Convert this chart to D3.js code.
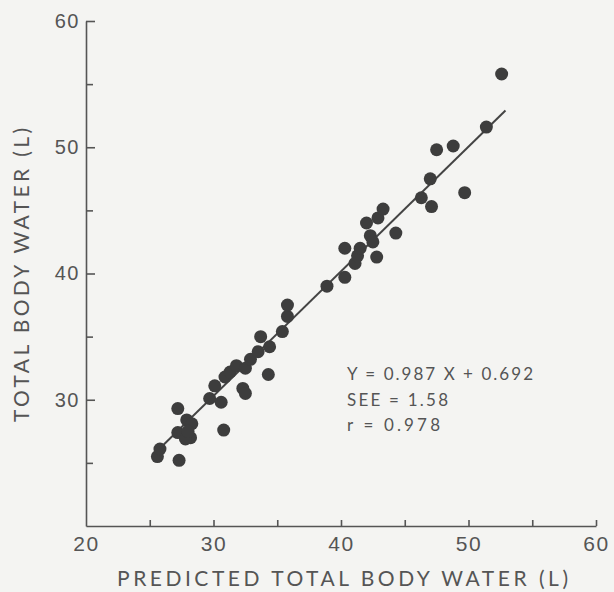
<!DOCTYPE html>
<html>
<head>
<meta charset="utf-8">
<script src="https://cdn.jsdelivr.net/npm/d3@7"></script>
<style>
  html, body { margin: 0; padding: 0; background: #f4f4f2; }
  svg { display: block; font-family: Lato, "DejaVu Sans", sans-serif; }
  .axis path, .axis line { stroke: #555; stroke-width: 1.6; }
  .axis text { fill: #555; }
</style>
</head>
<body>
<div id="chart"></div>
<script>
// predicted total body water (x) vs measured total body water (y), litres
const predicted = [25.6, 25.8, 27.3, 27.2, 27.2, 27.9, 28.3, 28.2, 27.8, 28.0,
  29.7, 30.1, 30.6, 30.8, 30.9, 31.3, 31.8, 32.3, 32.5, 32.5,
  32.9, 33.5, 33.7, 34.3, 34.4, 35.4, 35.8, 35.8, 38.9, 40.3,
  40.3, 41.1, 41.3, 41.5, 42.0, 42.3, 42.5, 42.8, 42.9, 43.3,
  44.3, 46.3, 47.0, 47.1, 47.5, 48.8, 49.7, 51.4, 52.6];
const measured = [25.5, 26.1, 25.2, 29.3, 27.4, 28.4, 28.1, 27.0, 26.9, 27.5,
  30.1, 31.1, 29.8, 27.6, 31.8, 32.2, 32.7, 30.9, 30.5, 32.5,
  33.2, 33.8, 35.0, 32.0, 34.2, 35.4, 36.6, 37.5, 39.0, 39.7,
  42.0, 40.8, 41.4, 42.0, 44.0, 43.0, 42.5, 41.3, 44.4, 45.1,
  43.2, 46.0, 47.5, 45.3, 49.8, 50.1, 46.4, 51.6, 55.8];

// regression line Y = 0.987 X + 0.692 over the predicted range
const slope = 0.987;
const intercept = 0.692;
const fitRange = [25.5, 52.9];

const xLabels = [20, 30, 40, 50, 60];
const xMinor = [25, 35, 45, 55];
const yLabels = [30, 40, 50, 60];
const yMinor = [25, 35, 45, 55];

const statLines = ["Y = 0.987 X + 0.692", "SEE = 1.58", "r = 0.978"];

const width = 614, height = 592;
const margin = { top: 21, right: 18, bottom: 66, left: 86 };

const svg = d3.select("#chart").append("svg")
  .attr("width", width)
  .attr("height", height);

const x = d3.scaleLinear().domain([20, 60]).range([margin.left, width - margin.right]);
const y = d3.scaleLinear().domain([20, 60]).range([height - margin.bottom, margin.top]);

// x axis, ticks pointing up into the plot
svg.append("g")
  .attr("class", "axis")
  .attr("transform", `translate(0,${height - margin.bottom})`)
  .call(d3.axisBottom(x).tickValues(xLabels).tickSize(-6).tickSizeOuter(0).tickPadding(10))
  .call(g => g.selectAll("text").attr("font-size", 21).attr("letter-spacing", 1.5))
  .call(g => g.selectAll(".tick line").filter(d => d === 20).remove());

svg.append("g")
  .attr("class", "axis")
  .attr("transform", `translate(0,${height - margin.bottom})`)
  .call(d3.axisBottom(x).tickValues(xMinor).tickSize(-6).tickFormat(""))
  .call(g => g.select(".domain").remove());

// y axis, ticks pointing right into the plot
svg.append("g")
  .attr("class", "axis")
  .attr("transform", `translate(${margin.left},0)`)
  .call(d3.axisLeft(y).tickValues(yLabels).tickSize(-9).tickSizeOuter(0).tickPadding(6))
  .call(g => g.selectAll("text").attr("font-size", 20).attr("letter-spacing", 1.5));

svg.append("g")
  .attr("class", "axis")
  .attr("transform", `translate(${margin.left},0)`)
  .call(d3.axisLeft(y).tickValues(yMinor).tickSize(-7).tickFormat(""))
  .call(g => g.select(".domain").remove());

// axis titles
svg.append("text")
  .attr("x", 117)
  .attr("y", 586)
  .attr("textLength", 451)
  .attr("lengthAdjust", "spacing")
  .attr("font-size", 21)
  .attr("fill", "#555")
  .text("PREDICTED TOTAL BODY WATER (L)");

svg.append("text")
  .attr("transform", "translate(29,422) rotate(-90)")
  .attr("textLength", 294)
  .attr("lengthAdjust", "spacing")
  .attr("font-size", 21)
  .attr("fill", "#555")
  .text("TOTAL BODY WATER (L)");

// regression line
svg.append("line")
  .attr("x1", x(fitRange[0]))
  .attr("y1", y(slope * fitRange[0] + intercept))
  .attr("x2", x(fitRange[1]))
  .attr("y2", y(slope * fitRange[1] + intercept))
  .attr("stroke", "#444")
  .attr("stroke-width", 2);

// data points
svg.selectAll(".dot")
  .data(predicted.map((p, i) => ({ p: p, m: measured[i] })))
  .enter().append("circle")
    .attr("class", "dot")
    .attr("cx", d => x(d.p))
    .attr("cy", d => y(d.m))
    .attr("r", 6.5)
    .attr("fill", "#3d3d3d");

// statistics block
const statWidths = [186, 101, 93];
svg.selectAll(".stat")
  .data(statLines)
  .enter().append("text")
    .attr("class", "stat")
    .attr("x", 347)
    .attr("y", (d, i) => 380 + i * 25.5)
    .attr("textLength", (d, i) => statWidths[i])
    .attr("lengthAdjust", "spacing")
    .attr("font-size", 17)
    .attr("fill", "#555")
    .text(d => d);
</script>
</body>
</html>
